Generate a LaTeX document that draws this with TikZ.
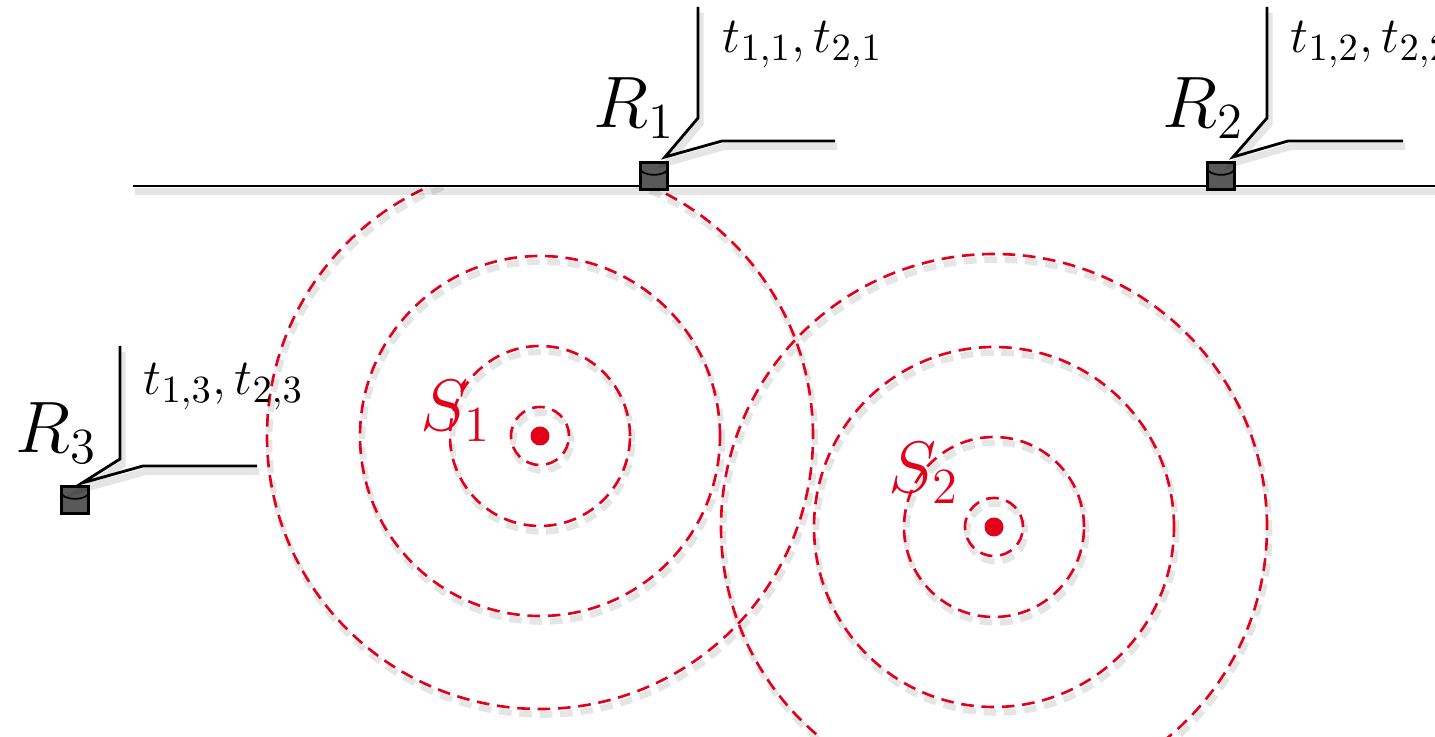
\documentclass[tikz,border=0pt]{standalone}
\usetikzlibrary{shapes.geometric}
\definecolor{srcred}{RGB}{226,0,26}
\tikzset{
  soft shadow/.style={preaction={draw=black, draw opacity=0.10, line width=2pt, transform canvas={shift={(0.6pt,-1.6pt)}}}},
  sensor/.style={cylinder, shape border rotate=90, aspect=0.9, draw=black, thick, cylinder uses custom fill, cylinder body fill=black!65, cylinder end fill=black!30, minimum width=0.27cm, minimum height=0.27cm, inner sep=0,
    path picture={\draw[line width=0.5pt] ([yshift=-0.06cm]path picture bounding box.north west) arc[start angle=180, end angle=360, x radius=0.135cm, y radius=0.06cm];}},
  wave/.style={draw=srcred, dash pattern=on 3.6pt off 2.2pt, line width=0.75pt,
    preaction={draw=black, draw opacity=0.10, line width=1.8pt, dash pattern=on 3.6pt off 2.2pt, transform canvas={shift={(0.6pt,-1.6pt)}}}},
  callout line/.style={draw=black, line width=0.8pt, soft shadow},
  rlabel/.style={font=\huge, inner sep=0, anchor=base west},
  tlabel/.style={font=\fontsize{15.8}{19}\selectfont, inner sep=0, anchor=base west},
  slabel/.style={font=\huge, text=srcred, inner sep=0, anchor=base west},
  source/.style={circle, fill=srcred, inner sep=0, minimum size=0.19cm}
}

\begin{document}
\begin{tikzpicture}

\useasboundingbox[clip] (0,0) rectangle (14.35,7.36);

% sources and their wave fronts
\node[source] (s1) at (5.40,3.00) {};
\node[source] (s2) at (9.94,2.09) {};

\begin{scope}
  \clip (0,0) rectangle (14.35,5.5);
  \foreach \r in {0.29,0.9,1.8,2.73}
    \draw[wave] (s1.center) circle (\r);
\end{scope}
\foreach \r in {0.29,0.9,1.8,2.73}
  \draw[wave] (s2.center) circle (\r);

\node[slabel] (s1lbl) at (4.20,3.05) {$S_1$};
\node[slabel] (s2lbl) at (8.88,2.43) {$S_2$};

% ground line
\coordinate (lineW) at (1.33,5.5);
\coordinate (lineE) at (14.60,5.5);
\draw[line width=0.8pt, soft shadow] (lineW) -- (lineE);

% receivers
\node[sensor] (r1) at (6.54,5.59) {};
\node[sensor] (r2) at (12.21,5.59) {};
\node[sensor] (r3) at (0.75,2.35) {};

\node[rlabel] (r1lbl) at (5.93,6.08) {$R_1$};
\node[rlabel] (r2lbl) at (11.62,6.08) {$R_2$};
\node[rlabel] (r3lbl) at (0.15,2.83) {$R_3$};

% callouts
\coordinate (r1up) at (6.98,7.29);
\coordinate (r1rt) at (8.35,5.95);
\draw[callout line] (r1up) -- ++(0,-1.11) -- ([shift={(0.11,0.20)}]r1.center) -- (7.22,5.95) -- (r1rt);
\coordinate (r2up) at (12.67,7.29);
\coordinate (r2rt) at (14.03,5.95);
\draw[callout line] (r2up) -- ++(0,-1.11) -- ([shift={(0.12,0.20)}]r2.center) -- (12.88,5.95) -- (r2rt);
\coordinate (r3up) at (1.20,3.90);
\coordinate (r3rt) at (2.57,2.70);
\draw[callout line] (r3up) -- (1.20,2.77) -- ([shift={(0.07,0.18)}]r3.center) -- (1.43,2.70) -- (r3rt);

\node[tlabel] (t1) at (7.22,6.83) {$t_{1,1}, t_{2,1}$};
\node[tlabel] (t2) at (12.90,6.83) {$t_{1,2}, t_{2,2}$};
\node[tlabel] (t3) at (1.43,3.41) {$t_{1,3}, t_{2,3}$};

\end{tikzpicture}
\end{document}
